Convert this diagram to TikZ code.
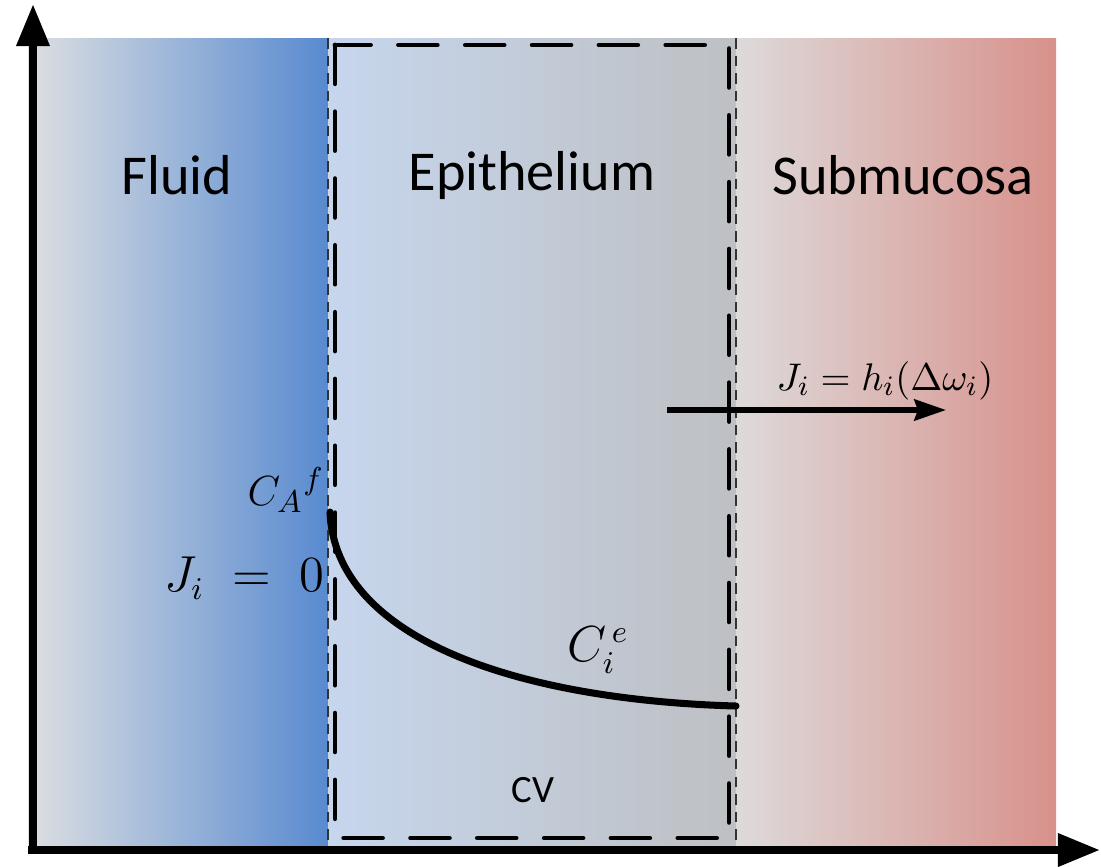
\documentclass[tikz,border=0pt]{standalone}
\usepackage{fontspec}
\setsansfont{Carlito}
\usetikzlibrary{arrows.meta}

\begin{document}
\begin{tikzpicture}[x=0.01cm, y=-0.01cm,
    region/.style={font=\sffamily\fontsize{16}{19}\selectfont},
    mathlabel/.style={font=\fontsize{11}{13}\selectfont, inner sep=0pt},
    axis/.style={line width=2.3pt, -{Triangle[length=12pt, width=9pt]}},
    flux/.style={line width=1.5pt, -{Stealth[length=9pt, width=6pt, inset=1pt]}},
    border/.style={densely dashed, line width=0.3pt, black!80},
    cvbox/.style={line width=1.4pt, dash pattern=on 11pt off 8pt, line cap=round, line join=round},
    profile/.style={line width=2pt, line cap=round}
]
    \useasboundingbox (0,0) rectangle (1101,866);

    % Layers
    \shade[left color={rgb,255:red,221;green,223;blue,225}, right color={rgb,255:red,88;green,138;blue,208}]
        (28,38) rectangle (328,848);
    \shade[left color={rgb,255:red,198;green,214;blue,237}, right color={rgb,255:red,190;green,192;blue,195}]
        (328,38) rectangle (736,848);
    \shade[left color={rgb,255:red,221;green,218;blue,218}, right color={rgb,255:red,216;green,145;blue,139}]
        (736,38) rectangle (1056,848);

    % Interfaces
    \coordinate (fe top) at (328,38);
    \coordinate (fe bot) at (328,848);
    \coordinate (es top) at (736,38);
    \coordinate (es bot) at (736,848);
    \draw[border] (fe top) -- (fe bot);
    \draw[border] (es top) -- (es bot);

    % Control volume
    \draw[cvbox] (335,45) rectangle (729,838);

    % Axes
    \coordinate (O) at (33,850);
    \coordinate (ytip) at (33,4);
    \coordinate (xtip) at (1100,850);
    \draw[axis] (33,854) -- (ytip);
    \draw[axis] (28,850) -- (xtip);

    % Region names
    \node[region] (fluid) at (177,175) {Fluid};
    \node[region] (epi) at (532,175) {Epithelium};
    \node[region] (sub) at (903,175) {Submucosa};
    \node[font=\sffamily\fontsize{11}{13}\selectfont] (cv) at (533,790) {CV};

    % Concentration profile
    \coordinate (cf) at (330,512);
    \coordinate (ce) at (736,706);
    \draw[profile] (cf) .. controls (335,640) and (520,700) .. (ce);

    % Flux out of the epithelium
    \coordinate (fstart) at (667,410);
    \coordinate (fend) at (946,410);
    \draw[flux] (fstart) -- (fend);

    % Labels
    \node[mathlabel, font=\fontsize{13}{15}\selectfont] (cAf) at (286,490) {$C_A{}^{f}$};
    \node[mathlabel, font=\fontsize{13.5}{16}\selectfont] (J0) at (244,578) {$J_{i}\;=\;0$};
    \node[mathlabel, font=\fontsize{13.5}{16}\selectfont] (cie) at (598,650) {$C_i^{\,e}$};
    \node[mathlabel] (Jh) at (885,380) {$J_i = h_i\bigl(\Delta\omega_i\bigr)$};
\end{tikzpicture}
\end{document}
